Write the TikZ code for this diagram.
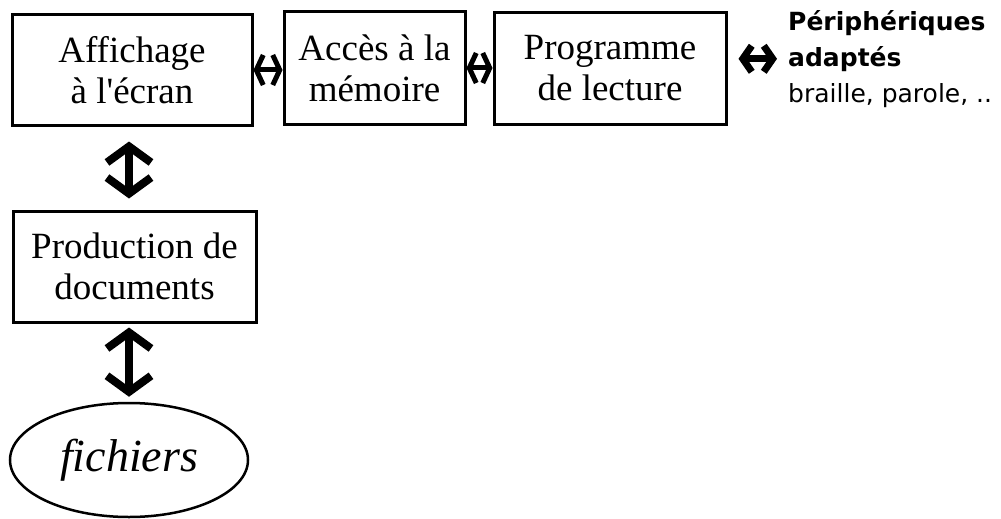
\documentclass[tikz,border=0pt]{standalone}
\usepackage{fontspec}
\setmainfont{Liberation Serif}
\newfontfamily\sidefont{DejaVu Sans}
\usetikzlibrary{arrows.meta,shapes.geometric}
\tikzset{
  boxnode/.style={draw, line width=3pt, inner sep=0pt, align=center,
    font=\fontsize{37}{41}\selectfont},
  bigarr/.style={line width=8pt,
    {Straight Barb[length=16pt,width=44pt]}-{Straight Barb[length=16pt,width=44pt]}},
  smallarr/.style={line width=5pt,
    {Straight Barb[length=7pt,width=30pt]}-{Straight Barb[length=7pt,width=30pt]}},
}
\begin{document}
\begin{tikzpicture}[x=1pt,y=-1pt]
\useasboundingbox (0,0) rectangle (1001,519);
\node[boxnode, minimum width=240pt, minimum height=110pt] (a1) at (132,70) {Affichage\\à l\textquotesingle écran};
\node[boxnode, minimum width=181pt, minimum height=112pt] (a2) at (374.5,68) {Accès à la\\mémoire};
\node[boxnode, minimum width=232pt, minimum height=111pt] (a3) at (610,68.5) {Programme\\de lecture};
\node[boxnode, minimum width=243pt, minimum height=111pt] (a4) at (134.5,266.5) {Production de\\documents};
\node[draw, ellipse, line width=2.5pt, minimum width=238pt, minimum height=114pt, inner sep=0pt,
  font=\fontsize{46}{50}\selectfont\itshape] (f) at (129,460) {fichiers};
\node[anchor=north west, inner sep=0pt, align=left, font=\sidefont\fontsize{25}{36}\selectfont]
  (p) at (788,10) {\textbf{Périphériques}\\\textbf{adaptés}\\braille, parole, ..};
% connectors
\draw[smallarr, shorten <=0pt, shorten >=0pt] (a1.east) -- (a1.east -| a2.west);
\draw[smallarr, shorten <=0pt, shorten >=0pt] (a2.east) -- (a2.east -| a3.west);
\draw[bigarr, line width=7pt, {Straight Barb[length=9pt,width=26pt]}-{Straight Barb[length=9pt,width=26pt]},
  shorten <=11pt, shorten >=11pt] (a3.east |- p.west) -- (p.west);
\draw[bigarr, shorten <=15pt, shorten >=11pt] (a1.south -| f.north) -- (a4.north -| f.north);
\draw[bigarr, shorten <=4pt, shorten >=5pt] (a4.south -| f.north) -- (f.north);
\end{tikzpicture}
\end{document}
